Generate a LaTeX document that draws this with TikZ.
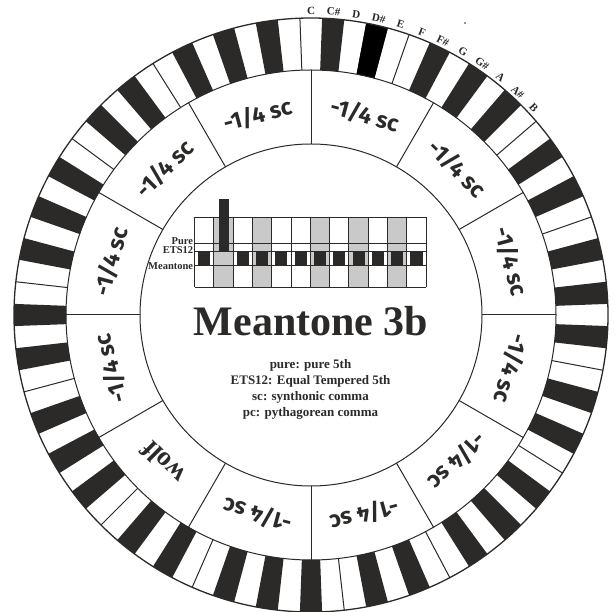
\documentclass[tikz,border=0pt]{standalone}
\usepackage{fontspec}
\setmainfont{Liberation Serif}
\newfontfamily\labfont{Fira Sans}
\definecolor{keyg}{RGB}{43,42,41}
\definecolor{colg}{RGB}{200,201,200}
\begin{document}
\begin{tikzpicture}[x=1pt,y=1pt,
  ringline/.style={draw=keyg, line width=1pt},
  outerline/.style={draw=keyg, line width=1.3pt},
  gridline/.style={draw=keyg, line width=0.9pt},
  seclab/.style={font=\labfont\bfseries\fontsize{23}{23}\selectfont, text=keyg, inner sep=0pt},
  wolflab/.style={font=\bfseries\fontsize{27}{27}\selectfont, text=keyg, inner sep=0pt},
  notelab/.style={font=\bfseries\fontsize{11}{11}\selectfont, text=keyg, inner sep=0pt},
  rowlab/.style={font=\bfseries\fontsize{10.5}{10.5}\selectfont, text=keyg, inner sep=0pt, anchor=base east},
  legend/.style={font=\bfseries\fontsize{13}{13}\selectfont, text=keyg, inner sep=0pt, anchor=base}]
\clip (0,0) rectangle (616,611);
\fill[white] (0,0) rectangle (616,611);
\def\dd{4.2857143}
\begin{scope}[shift={(311,296)}]
  % black keys and white-key separators
  \foreach \o in {0,...,6}{
    \foreach \k in {1,3,6,8,10}{
      \pgfmathsetmacro\aa{90-(12*\o+\k-0.5)*\dd}
      \pgfmathsetmacro\ab{90-(12*\o+\k+0.5)*\dd}
      \fill[keyg] (\aa:245pt) arc[start angle=\aa, end angle=\ab, radius=245pt]
        -- (\ab:297pt) arc[start angle=\ab, end angle=\aa, radius=297pt] -- cycle;
    }
    \foreach \k in {4.5,11.5}{
      \pgfmathsetmacro\aa{90-(12*\o+\k)*\dd}
      \draw[ringline] (\aa:245pt) -- (\aa:297pt);
    }
  }
  % highlighted D#
  \pgfmathsetmacro\aa{90-2.5*\dd}
  \pgfmathsetmacro\ab{90-3.5*\dd}
  \fill[black] (\aa:245pt) arc[start angle=\aa, end angle=\ab, radius=245pt]
    -- (\ab:297pt) arc[start angle=\ab, end angle=\aa, radius=297pt] -- cycle;
  % circles
  \draw[outerline] (0,0) circle[radius=297pt];
  \draw[ringline] (0,0) circle[radius=245pt];
  \draw[ringline] (0,0) circle[radius=171pt];
  % sector dividers
  \foreach \a in {0,30,...,330}{
    \draw[ringline] (\a:171pt) -- (\a:245pt);
  }
  % sector labels
  \foreach \th in {75,45,15,-15,-45,-75,-105,-165,165,135,105}{
    \pgfmathsetmacro\rot{\th-90}
    \node[seclab, rotate=\rot] (s\th) at (\th:207pt) {-1/4 sc};
  }
  \node[wolflab, rotate=135] (wolf) at (-135:209pt) {wolf};
  % note names
  \foreach \nm [count=\i from 0] in {C,C\#,D,D\#,E,F,F\#,G,G\#,A,A\#,B}{
    \pgfmathsetmacro\th{90-\i*\dd}
    \pgfmathsetmacro\rot{\th-90}
    \node[notelab, rotate=\rot] (n\i) at (\th:304pt) {\nm};
  }
  \fill[keyg] (154,292) circle[radius=0.9pt];
\end{scope}
% chart
\foreach \c in {1,3,6,8,10}{
  \fill[colg] ({194.5+\c*19.3},323.5) rectangle ({194.5+(\c+1)*19.3},393.5);
}
\foreach \c in {0,...,12}{
  \draw[gridline] ({194.5+\c*19.3},323.5) -- ({194.5+\c*19.3},393.5);
}
\foreach \y in {323.5,345.3,359.3,367.5,393.5}{
  \draw[gridline] (194.5,\y) -- (426.1,\y);
}
\foreach \c in {0,2,3,4,5,6,7,8,9,10,11}{
  \fill[keyg] ({194.5+\c*19.3+3.6},345.3) rectangle ({194.5+(\c+1)*19.3-3.6},359.3);
}
\fill[keyg] (218.8,359.3) rectangle (229.3,411.7);
\node[rowlab] (pure) at (193.3,366) {Pure};
\node[rowlab] (ets) at (193.3,357.7) {ETS12};
\node[rowlab] (mean) at (193.3,341.7) {Meantone};
% title and legend
\node[font=\bfseries\fontsize{42}{42}\selectfont, text=keyg, inner sep=0pt, anchor=base] (title) at (311,275) {Meantone 3b};
\node[legend] (l1) at (310.5,242) {pure: pure 5th};
\node[legend] (l2) at (310.5,226) {ETS12: Equal Tempered 5th};
\node[legend] (l3) at (310.5,210) {sc: synthonic comma};
\node[legend] (l4) at (310.5,194) {pc: pythagorean comma};
\end{tikzpicture}
\end{document}
